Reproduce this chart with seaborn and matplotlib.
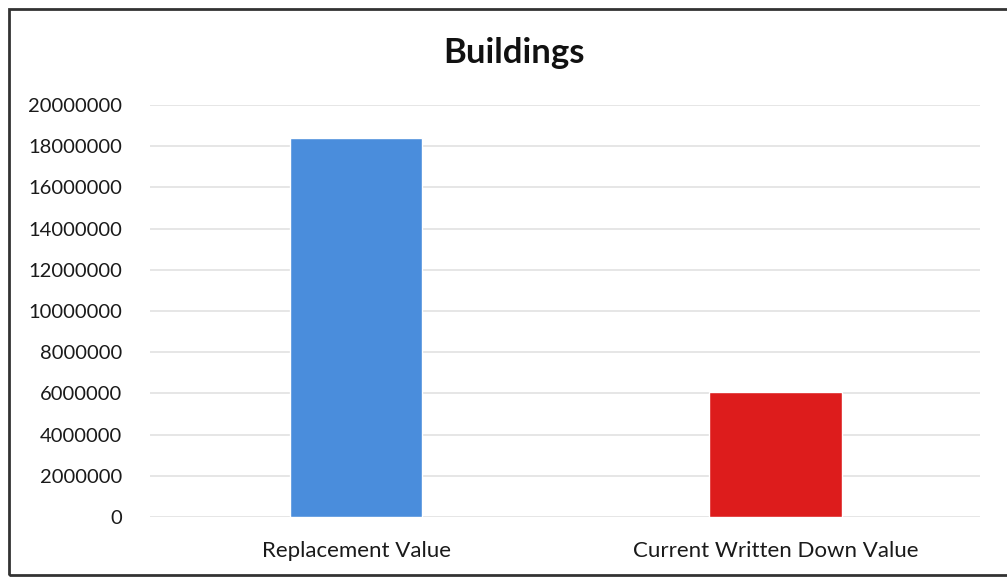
import matplotlib
matplotlib.use("Agg")
import matplotlib.pyplot as plt
from matplotlib.patches import Rectangle
import seaborn as sns
import pandas as pd

categories = ["Replacement Value", "Current Written Down Value"]
values = [18400000, 6050000]
bar_colors = ["#4a8ddc", "#dd1c1c"]
y_ticks = list(range(0, 20000001, 2000000))

sns.set_theme(style="white")
plt.rcParams["font.family"] = ["Lato", "DejaVu Sans"]

df = pd.DataFrame({"category": categories, "value": values})

fig = plt.figure(figsize=(10.07, 5.77), dpi=100)
ax = fig.add_axes([0.149, 0.104, 0.824, 0.714])

sns.barplot(data=df, x="category", y="value", hue="category",
            palette=bar_colors, width=0.315, legend=False, ax=ax,
            saturation=1, zorder=3)

ax.set_ylim(0, 20000000)
ax.set_xlim(-0.491, 1.487)
ax.set_yticks(y_ticks)
ax.set_yticklabels([str(t) for t in y_ticks], fontsize=14.5, color="#1a1a1a")
ax.tick_params(axis="x", labelsize=16, labelcolor="#1a1a1a", pad=17, length=0)
ax.tick_params(axis="y", pad=20, length=0)
ax.set_xlabel("")
ax.set_ylabel("")
ax.grid(axis="y", color="#e2e2e2", linewidth=1.2, zorder=0)
for s in ax.spines.values():
    s.set_visible(False)

fig.text(0.510, 0.908, "Buildings", ha="center", va="center",
         fontsize=25, fontweight="bold", color="#111111")

# chart frame
frame = Rectangle((9 / 1007, 2 / 577), 1.1, 566 / 577, transform=fig.transFigure,
                  fill=False, edgecolor="#333333", linewidth=2, clip_on=False)
fig.patches.append(frame)

fig.savefig("out.png", dpi=100)
